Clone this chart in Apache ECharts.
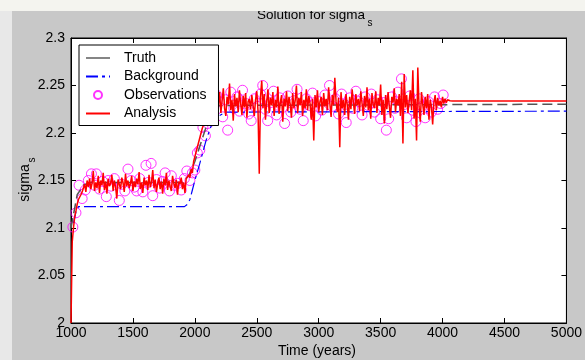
<!DOCTYPE html>
<html><head><meta charset="utf-8">
<script src="https://cdn.jsdelivr.net/npm/echarts@6/dist/echarts.min.js"></script>
<style>html,body{margin:0;padding:0;background:#c8c8c8}#c{width:585px;height:360px}</style>
</head><body><div id="c"></div>
<script>
// ---------- data ----------
const xTicks = [1000, 1500, 2000, 2500, 3000, 3500, 4000, 4500, 5000];
const yTicks = [2, 2.05, 2.1, 2.15, 2.2, 2.25, 2.3];

const truthTimes  = [1000, 1050, 1100, 1150, 1900, 1950, 2000, 2050, 2100, 2150, 2200, 5000];
const truthValues = [2.100, 2.135, 2.145, 2.148, 2.148, 2.155, 2.170, 2.190, 2.210, 2.225, 2.229, 2.2303];

const bgTimes  = [1020, 1040, 1060, 1916, 1940, 1960, 1980, 2000, 2040, 2090, 2130, 2180, 2250, 5000];
const bgValues = [2.105, 2.117, 2.1225, 2.1225, 2.125, 2.130, 2.140, 2.150, 2.168, 2.192, 2.207, 2.217, 2.222, 2.223];

const obsTimes = [1015, 1040, 1065, 1090, 1115, 1140, 1165, 1190, 1205, 1230, 1255, 1285, 1300, 1325, 1350, 1390, 1410, 1435, 1460, 1485,
  1510, 1530, 1555, 1580, 1605, 1625, 1647, 1660, 1690, 1715, 1740, 1760, 1795, 1810, 1835, 1862, 1890, 1915, 1935, 1960,
  1980, 2000, 2020, 2040, 2065, 2085, 2105, 2125, 2150, 2175, 2200, 2225, 2250, 2265, 2290, 2315, 2340, 2360, 2385, 2410,
  2435, 2455, 2480, 2505, 2530, 2548, 2570, 2588, 2610, 2635, 2660, 2685, 2710, 2725, 2750, 2775, 2800, 2825, 2850, 2875,
  2900, 2925, 2950, 2975, 3000, 3025, 3050, 3087, 3110, 3135, 3160, 3185, 3210, 3222, 3250, 3275, 3300, 3325, 3350, 3375,
  3400, 3425, 3450, 3475, 3500, 3525, 3546, 3565, 3590, 3615, 3640, 3668, 3690, 3710, 3735, 3760, 3785, 3810, 3835, 3860,
  3885, 3910, 3935, 3960, 3985, 4005];
const obsValues = [2.101, 2.116, 2.145, 2.131, 2.140, 2.150, 2.157, 2.145, 2.157, 2.141, 2.149, 2.133, 2.150, 2.144, 2.152, 2.129, 2.146, 2.139, 2.162, 2.150,
  2.143, 2.139, 2.152, 2.138, 2.166, 2.148, 2.168, 2.134, 2.151, 2.142, 2.149, 2.158, 2.139, 2.155, 2.145, 2.147, 2.140, 2.152, 2.160, 2.150,
  2.158, 2.161, 2.179, 2.182, 2.206, 2.197, 2.210, 2.221, 2.228, 2.240, 2.233, 2.217, 2.235, 2.203, 2.243, 2.226, 2.238, 2.223, 2.245, 2.231,
  2.220, 2.213, 2.236, 2.228, 2.241, 2.250, 2.225, 2.213, 2.232, 2.244, 2.219, 2.237, 2.227, 2.210, 2.239, 2.222, 2.234, 2.246, 2.225, 2.213,
  2.236, 2.229, 2.242, 2.218, 2.233, 2.224, 2.240, 2.250, 2.228, 2.236, 2.220, 2.241, 2.230, 2.211, 2.237, 2.226, 2.244, 2.233, 2.219, 2.238,
  2.229, 2.241, 2.222, 2.235, 2.215, 2.232, 2.203, 2.215, 2.238, 2.226, 2.243, 2.257, 2.230, 2.216, 2.239, 2.224, 2.212, 2.236, 2.228, 2.216,
  2.233, 2.222, 2.238, 2.225, 2.231, 2.240];

// analysis: one value every 10 years from 1000 to 4090
const analysisStart = 1000;
const analysisStep = 10;
const analysisValues = [
  2.000, 2.085, 2.100, 2.112, 2.118, 2.125, 2.130, 2.128, 2.135, 2.138,
  2.140, 2.146, 2.138, 2.150, 2.143, 2.152, 2.141, 2.147, 2.160, 2.139,
  2.148, 2.142, 2.155, 2.137, 2.150, 2.145, 2.158, 2.140, 2.149, 2.136,
  2.152, 2.144, 2.147, 2.156, 2.139, 2.150, 2.143, 2.131, 2.151, 2.146,
  2.141, 2.153, 2.148, 2.138, 2.157, 2.144, 2.150, 2.142, 2.147, 2.155,
  2.139, 2.149, 2.143, 2.152, 2.146, 2.159, 2.141, 2.148, 2.137, 2.153,
  2.145, 2.150, 2.140, 2.156, 2.143, 2.148, 2.161, 2.142, 2.151, 2.138,
  2.147, 2.153, 2.141, 2.149, 2.136, 2.152, 2.145, 2.158, 2.140, 2.150,
  2.144, 2.139, 2.155, 2.147, 2.142, 2.151, 2.135, 2.149, 2.146, 2.153,
  2.141, 2.148, 2.137, 2.152, 2.150,
  2.156, 2.153, 2.162, 2.158, 2.170, 2.168, 2.180, 2.185, 2.183, 2.195,
  2.200, 2.205, 2.203, 2.212, 2.218, 2.215, 2.224, 2.221, 2.229, 2.226,
  2.232, 2.240, 2.225, 2.236, 2.229, 2.243, 2.221, 2.234, 2.247, 2.226,
  2.218, 2.238, 2.230, 2.252, 2.224, 2.235, 2.213, 2.241, 2.228, 2.237,
  2.222, 2.245, 2.231, 2.219, 2.239, 2.227, 2.242, 2.216, 2.233, 2.236,
  2.225, 2.240, 2.229, 2.218, 2.235, 2.244, 2.223, 2.157, 2.238, 2.255,
  2.226, 2.241, 2.214, 2.233, 2.246, 2.221, 2.237, 2.229, 2.243, 2.218,
  2.235, 2.227, 2.249, 2.220, 2.232, 2.240, 2.212, 2.236, 2.228, 2.244,
  2.223, 2.238, 2.230, 2.216, 2.242, 2.226, 2.234, 2.250, 2.221, 2.237,
  2.229, 2.243, 2.218, 2.235, 2.226, 2.246, 2.224, 2.239, 2.231, 2.214,
  2.236, 2.192, 2.240, 2.227, 2.245, 2.222, 2.233, 2.238, 2.219, 2.242,
  2.228, 2.236, 2.224, 2.248, 2.231, 2.217, 2.240, 2.229, 2.258, 2.233,
  2.222, 2.237, 2.185, 2.243, 2.226, 2.235, 2.219, 2.241, 2.230, 2.214,
  2.238, 2.225, 2.246, 2.232, 2.220, 2.241, 2.229, 2.236, 2.223, 2.244,
  2.231, 2.218, 2.239, 2.227, 2.248, 2.224, 2.236, 2.215, 2.242, 2.230,
  2.226, 2.244, 2.221, 2.237, 2.229, 2.251, 2.219, 2.235, 2.210, 2.240,
  2.225, 2.243, 2.228, 2.216, 2.238, 2.232, 2.247, 2.222, 2.236, 2.229,
  2.241, 2.218, 2.254, 2.189, 2.262, 2.227, 2.240, 2.221, 2.233, 2.245,
  2.224, 2.266, 2.215, 2.236, 2.192, 2.269, 2.228, 2.212, 2.243, 2.230,
  2.219, 2.238, 2.226, 2.241, 2.214, 2.235, 2.228, 2.209, 2.232, 2.240,
  2.224, 2.237, 2.229, 2.234, 2.227, 2.238, 2.231, 2.236, 2.232, 2.235,
  2.233, 2.234, 2.2335, 2.2336, 2.2336
];
const analysisTailTimes  = [4100, 5000];
const analysisTailValues = [2.2336, 2.2336];

// ---------- chart ----------
const FONT = '"Liberation Sans", Arial, Helvetica, sans-serif';
const pairs = (ts, vs) => ts.map((t, i) => [t, vs[i]]);
const analysisData = analysisValues.map((v, i) => [analysisStart + i * analysisStep, v])
  .concat(pairs(analysisTailTimes, analysisTailValues));

const chart = echarts.init(document.getElementById('c'), null, {renderer: 'canvas'});
const black = {color: '#000', width: 1};
const fmtY = v => String(+(+v).toFixed(2));
const fmtX = v => String(Math.round(v));
const noSym = {color: 'rgba(0,0,0,0)', borderColor: 'rgba(0,0,0,0)', borderWidth: 0};

const option = {
  backgroundColor: '#c8c8c8',
  animation: false,
  textStyle: {fontFamily: FONT},
  grid: {left: 71, right: 18, top: 38, bottom: 37, show: true, backgroundColor: '#fff', borderColor: '#000', borderWidth: 1},
  xAxis: [
    {type: 'value', min: xTicks[0], max: xTicks[xTicks.length - 1], interval: xTicks[1] - xTicks[0], position: 'bottom',
     axisLine: {show: true, onZero: false, lineStyle: black},
     axisTick: {show: true, inside: true, length: 5, lineStyle: black},
     axisLabel: {color: '#000', fontSize: 14, fontFamily: FONT, margin: 3, formatter: fmtX, showMinLabel: true, showMaxLabel: true},
     splitLine: {show: false}},
    {type: 'value', min: xTicks[0], max: xTicks[xTicks.length - 1], interval: xTicks[1] - xTicks[0], position: 'top',
     axisLine: {show: true, onZero: false, lineStyle: black},
     axisTick: {show: true, inside: true, length: 5, lineStyle: black},
     axisLabel: {show: false}, splitLine: {show: false}}
  ],
  yAxis: [
    {type: 'value', min: yTicks[0], max: yTicks[yTicks.length - 1], interval: 0.05, position: 'left',
     axisLine: {show: true, onZero: false, lineStyle: black},
     axisTick: {show: true, inside: true, length: 5, lineStyle: black},
     axisLabel: {color: '#000', fontSize: 14, fontFamily: FONT, margin: 6, formatter: fmtY, showMinLabel: true, showMaxLabel: true},
     splitLine: {show: false}},
    {type: 'value', min: yTicks[0], max: yTicks[yTicks.length - 1], interval: 0.05, position: 'right',
     axisLine: {show: true, onZero: false, lineStyle: black},
     axisTick: {show: true, inside: true, length: 5, lineStyle: black},
     axisLabel: {show: false}, splitLine: {show: false}}
  ],
  legend: {
    orient: 'vertical', left: 79, top: 45, padding: [6, 12, 5, 6], itemGap: 4.5, itemWidth: 24, itemHeight: 8,
    backgroundColor: '#fff', borderColor: '#000', borderWidth: 1, borderRadius: 0,
    textStyle: {fontSize: 14, color: '#000', fontFamily: FONT, padding: [0, 0, 0, 9]},
    selectedMode: false,
    data: [
      {name: 'Truth', lineStyle: {type: 'solid', color: '#333', width: 1.2}, itemStyle: noSym},
      {name: 'Background', itemStyle: noSym},
      {name: 'Observations'},
      {name: 'Analysis', itemStyle: noSym}
    ]
  },
  series: [
    {name: 'Truth', type: 'line', data: pairs(truthTimes, truthValues), symbol: 'none', silent: true,
     itemStyle: {color: '#555'}, lineStyle: {color: '#555', width: 1.5, type: [10, 5]}},
    {name: 'Background', type: 'line', data: pairs(bgTimes, bgValues), symbol: 'none', silent: true,
     itemStyle: {color: '#0000ff'}, lineStyle: {color: '#0000ff', width: 1.2, type: [12, 4, 3, 4]}},
    {name: 'Observations', type: 'scatter', data: pairs(obsTimes, obsValues), symbol: 'circle', symbolSize: 10, silent: true,
     itemStyle: {color: 'rgba(0,0,0,0)', borderColor: '#ff00ff', borderWidth: 1}},
    {name: 'Analysis', type: 'line', data: analysisData, symbol: 'none', silent: true,
     itemStyle: {color: '#ff0000'}, lineStyle: {color: '#ff0000', width: 1.5}}
  ],
  graphic: [
    {type: 'rect', shape: {x: 0, y: 0, width: 585, height: 11}, style: {fill: '#f4f4ef'}, z: 100, silent: true},
    {type: 'rect', shape: {x: 0, y: 0, width: 12, height: 360}, style: {fill: '#e8e8e8'}, z: 99, silent: true},
    {type: 'text', x: 311, y: 15, z: 50, silent: true,
     style: {text: 'Solution for sigma', fill: '#000', font: '13.5px ' + FONT, textAlign: 'center', textVerticalAlign: 'middle'}},
    {type: 'text', x: 370, y: 23, z: 50, silent: true,
     style: {text: 's', fill: '#000', font: '10px ' + FONT, textAlign: 'center', textVerticalAlign: 'middle'}},
    {type: 'text', x: 25, y: 183, rotation: Math.PI / 2, z: 50, silent: true,
     style: {text: 'sigma', fill: '#000', font: '14px ' + FONT, textAlign: 'center', textVerticalAlign: 'middle'}},
    {type: 'text', x: 32, y: 160, rotation: Math.PI / 2, z: 50, silent: true,
     style: {text: 's', fill: '#000', font: '10px ' + FONT, textAlign: 'center', textVerticalAlign: 'middle'}},
    {type: 'text', x: 317, y: 351, z: 50, silent: true,
     style: {text: 'Time (years)', fill: '#000', font: '14px ' + FONT, textAlign: 'center', textVerticalAlign: 'middle'}}
  ]
};
chart.setOption(option);
</script></body></html>
